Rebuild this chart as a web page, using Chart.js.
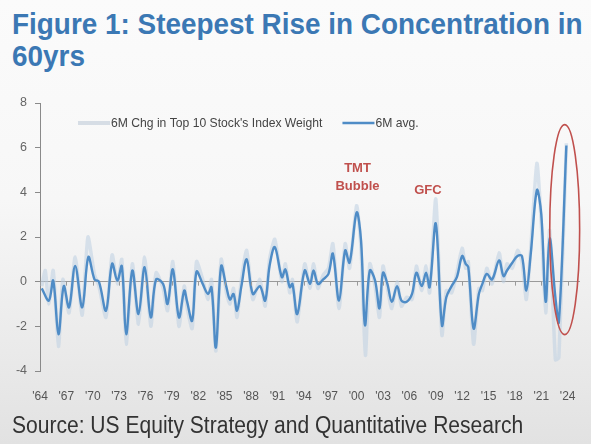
<!DOCTYPE html>
<html>
<head>
<meta charset="utf-8">
<script src="https://cdn.jsdelivr.net/npm/chart.js@4.4.1/dist/chart.umd.min.js"></script>
<style>
html, body { margin: 0; padding: 0; }
body {
    width: 591px; height: 444px; overflow: hidden; position: relative;
    background: linear-gradient(to bottom, #fbfbfb 0%, #f7f7f7 45%, #e2e2e2 100%);
    font-family: 'Liberation Sans', Arial, sans-serif;
}
#title {
    position: absolute; left: 12px; top: 8px; white-space: nowrap;
    font-weight: bold; font-size: 30px; line-height: 32px; color: #3b78b4;
    transform: scaleX(0.93); transform-origin: left top;
}
#source {
    position: absolute; left: 12px; top: 414px; white-space: nowrap;
    font-size: 23px; line-height: 23px; color: #333;
    transform: scaleX(0.915); transform-origin: left top;
}
#wrap { position: absolute; left: 0; top: 0; width: 591px; height: 444px; }
</style>
</head>
<body>
<div id="title">Figure 1: Steepest Rise in Concentration in<br>60yrs</div>
<div id="wrap"><canvas id="concChart"></canvas></div>
<div id="source">Source: US Equity Strategy and Quantitative Research</div>

<script>
// x tick positions (years)
const tickYears = [1964, 1967, 1970, 1973, 1976, 1979, 1982, 1985, 1988, 1991, 1994,
    1997, 2000, 2003, 2006, 2009, 2012, 2015, 2018, 2021, 2024];

// 6M avg. series
const avgYears = [1964.2, 1965.0, 1965.5, 1966.1, 1966.7, 1967.3, 1968.0, 1968.8, 1969.5, 1970.2,
    1970.7, 1971.5, 1972.2, 1972.8, 1973.3, 1973.8, 1974.5, 1975.2, 1975.9, 1976.6,
    1977.2, 1978.0, 1978.5, 1979.1, 1979.8, 1980.4, 1980.7, 1981.3, 1981.8, 1982.5,
    1983.1, 1983.5, 1984.0, 1984.6, 1985.2, 1985.6, 1986.0, 1986.4, 1986.9, 1987.5,
    1988.2, 1989.0, 1989.6, 1990.1, 1990.7, 1991.5, 1991.9, 1992.4, 1992.7, 1993.25,
    1994.1, 1994.7, 1995.1, 1995.6, 1996.2, 1996.8, 1997.3, 1998.0, 1998.7, 1999.2,
    2000.0, 2000.5, 2000.95, 2001.5, 2002.1, 2002.6, 2003.0, 2003.5, 2004.0, 2004.6,
    2005.1, 2005.7, 2006.3, 2006.8, 2007.4, 2007.9, 2008.3, 2009.0, 2009.7, 2010.2,
    2010.8, 2011.4, 2012.0, 2012.4, 2012.7, 2013.3, 2013.9, 2014.3, 2014.8, 2015.4,
    2016.2, 2016.7, 2017.1, 2017.7, 2018.3, 2018.8, 2019.3, 2019.8, 2020.5, 2021.0,
    2021.5, 2021.95, 2022.6, 2023.0, 2023.85];
const avgValues = [-0.3, -0.85, 0.05, -2.35, -0.2, -1.15, 0.7, -1.15, 1.1, 0.1,
    0.0, -1.3, 0.8, 0.05, 0.7, -2.35, 0.5, -1.45, 0.65, -1.6,
    0.1, -0.1, -1.0, 0.55, -1.6, -0.4, -0.85, -1.75, 0.45, -0.1,
    -0.55, -0.25, -2.95, 0.7, -0.25, -0.8, -0.55, -1.3, -0.2, 1.0,
    -0.55, -0.2, -0.85, 0.7, 1.55, 0.2, 0.55, -0.25, -0.1, -1.45,
    0.5, -0.1, 0.5, -0.1, 0.1, 0.35, 1.25, -0.85, 1.4, 0.85,
    3.1, 1.85, -1.95, 0.5, 0.05, -1.2, 0.4, -0.1, -0.9, -0.2,
    -0.85, -0.9, -0.55, 0.4, -0.2, 0.4, -0.25, 2.6, -1.95, -0.7,
    -0.2, 0.2, 1.15, 0.8, 0.65, -2.1, -0.55, -0.1, 0.35, 0.1,
    0.95, 0.25, 0.5, 0.85, 1.15, 1.15, -0.4, 1.25, 4.1, 3.0,
    -0.9, 1.95, -0.7, -1.8, 6.1];

// 6M change, monthly (light series)
const rawYears = [1964.2, 1964.6, 1965.0, 1965.5, 1966.1, 1966.6, 1967.3, 1968.0, 1968.8, 1969.45,
    1970.2, 1970.7, 1971.5, 1972.2, 1972.8, 1973.3, 1973.8, 1974.5, 1975.2, 1975.9,
    1976.6, 1977.2, 1978.0, 1978.5, 1979.1, 1979.8, 1980.4, 1980.7, 1981.3, 1981.8,
    1982.5, 1983.1, 1983.5, 1984.0, 1984.6, 1985.2, 1985.6, 1986.0, 1986.4, 1986.9,
    1987.5, 1988.2, 1989.0, 1989.6, 1990.1, 1990.7, 1991.5, 1991.9, 1992.4, 1992.7,
    1993.25, 1994.1, 1994.7, 1995.1, 1995.6, 1996.2, 1996.8, 1997.3, 1998.0, 1998.7,
    1999.2, 2000.0, 2000.5, 2001.0, 2001.5, 2002.1, 2002.6, 2003.0, 2003.5, 2004.0,
    2004.6, 2005.1, 2005.7, 2006.3, 2006.8, 2007.4, 2007.9, 2008.3, 2009.0, 2009.7,
    2010.2, 2010.8, 2011.4, 2012.0, 2012.4, 2012.7, 2013.3, 2013.9, 2014.3, 2014.8,
    2015.4, 2016.2, 2016.7, 2017.1, 2017.7, 2018.3, 2018.8, 2019.3, 2019.8, 2020.5,
    2021.0, 2021.5, 2021.95, 2022.6, 2023.0, 2023.85];
const rawValues = [-0.2, 0.5, -1.0, 0.5, -2.9, 0.1, -1.4, 1.1, -1.5, 2.0,
    0.3, -0.2, -1.6, 1.2, -0.1, 1.0, -2.8, 0.8, -1.9, 1.1,
    -2.0, 0.4, -0.3, -1.3, 0.9, -2.0, -0.2, -1.1, -2.1, 0.9,
    0.1, -0.8, 0.1, -3.1, 1.0, -0.5, -1.0, -0.3, -1.6, 0.1,
    1.4, -0.8, 0.1, -1.1, 1.0, 1.9, 0.0, 0.8, -0.5, 0.1,
    -1.8, 0.8, -0.3, 0.8, -0.3, 0.3, 0.6, 1.7, -1.2, 1.7,
    0.6, 3.4, 1.5, -3.3, 0.8, -0.2, -1.6, 0.7, -0.3, -1.2,
    0.0, -1.1, -0.7, -0.8, 0.7, -0.4, 0.7, -0.5, 3.7, -2.4,
    -0.4, -0.5, 0.4, 1.5, 0.6, 0.9, -2.8, -0.3, -0.4, 0.6,
    -0.1, 1.3, 0.0, 0.8, 0.6, 1.4, 0.9, -0.8, 1.5, 5.3,
    2.6, -1.4, 2.3, -3.5, -3.4, 6.2];

// text notes on the chart (year, value)
const notes = [
    { lines: ['TMT', 'Bubble'], x: 2000.1, y: 5.05 },
    { lines: ['GFC'], x: 2008.1, y: 4.1 }
];
// red ring round the latest rise (centre and radii in data units)
const ring = { x: 2023.66, y: 2.33, rx: 1.7, ry: 4.7 };

const AVG_BLUE = '#4f8cc6';
const RAW_GREY = 'rgba(190,208,226,0.55)';
const NOTE_RED = '#c0504d';
const FONT = "'Liberation Sans', Arial, sans-serif";

function toPoints(xs, ys) {
    return xs.map((x, i) => ({ x: x, y: ys[i] }));
}

const overlay = {
    id: 'overlay',
    afterDatasetsDraw(chart) {
        const { ctx, chartArea, scales: { x, y } } = chart;
        ctx.save();

        // small ticks under the zero line
        const y0 = y.getPixelForValue(0);
        ctx.strokeStyle = '#9a9a9a';
        ctx.lineWidth = 1;
        tickYears.forEach(t => {
            const px = Math.round(x.getPixelForValue(t)) + 0.5;
            ctx.beginPath();
            ctx.moveTo(px, y0);
            ctx.lineTo(px, y0 + 4);
            ctx.stroke();
        });

        // notes
        ctx.fillStyle = NOTE_RED;
        ctx.font = 'bold 13px ' + FONT;
        ctx.textAlign = 'center';
        ctx.textBaseline = 'middle';
        notes.forEach(n => {
            const px = x.getPixelForValue(n.x);
            const py = y.getPixelForValue(n.y);
            n.lines.forEach((l, i) => ctx.fillText(l, px, py + i * 18));
        });

        // ring
        const cx = x.getPixelForValue(ring.x);
        const cy = y.getPixelForValue(ring.y);
        const rx = Math.abs(x.getPixelForValue(ring.x + ring.rx) - cx);
        const ry = Math.abs(y.getPixelForValue(ring.y + ring.ry) - cy);
        ctx.strokeStyle = NOTE_RED;
        ctx.lineWidth = 1.6;
        ctx.beginPath();
        ctx.ellipse(cx, cy, rx, ry, 0, 0, Math.PI * 2);
        ctx.stroke();

        // legend inside the plot, in a slightly narrow face
        let lx = chartArea.left + 38;
        const ly = chartArea.top + 20;
        const squeeze = 0.9;
        ctx.font = '13.5px ' + FONT;
        ctx.textAlign = 'left';
        ctx.fillStyle = '#444';
        chart.data.datasets.forEach(ds => {
            ctx.strokeStyle = ds.legendColor;
            ctx.lineWidth = ds.legendWidth;
            ctx.beginPath();
            ctx.moveTo(lx, ly);
            ctx.lineTo(lx + 32, ly);
            ctx.stroke();
            ctx.save();
            ctx.translate(lx + 33, ly);
            ctx.scale(squeeze, 1);
            ctx.fillText(ds.label, 0, 0);
            ctx.restore();
            lx += 33 + ctx.measureText(ds.label).width * squeeze + 20;
        });
        ctx.restore();
    }
};

const chart = new Chart(document.getElementById('concChart'), {
    type: 'line',
    data: {
        datasets: [
            {
                label: "6M Chg in Top 10 Stock's Index Weight",
                data: toPoints(rawYears, rawValues),
                borderColor: RAW_GREY,
                legendColor: '#d6dde5',
                legendWidth: 4,
                borderWidth: 3.5,
                pointRadius: 0,
                tension: 0.2,
                order: 2
            },
            {
                label: '6M avg.',
                data: toPoints(avgYears, avgValues),
                borderColor: AVG_BLUE,
                legendColor: AVG_BLUE,
                legendWidth: 2.5,
                borderWidth: 2.4,
                pointRadius: 0,
                tension: 0.35,
                order: 1
            }
        ]
    },
    options: {
        responsive: true,
        maintainAspectRatio: false,
        animation: false,
        layout: { padding: { top: 103, right: 11, left: 0, bottom: 0 } },
        plugins: { legend: { display: false }, tooltip: { enabled: false } },
        scales: {
            x: {
                type: 'linear',
                min: 1964,
                max: 2025.4,
                afterBuildTicks: s => { s.ticks = tickYears.map(v => ({ value: v })); },
                afterFit: s => { s.height = 73; },
                grid: { display: false },
                border: { display: false },
                ticks: {
                    padding: 10,
                    color: '#555',
                    font: { family: FONT, size: 12 },
                    maxRotation: 0,
                    autoSkip: false,
                    callback: v => "'" + String(v).slice(-2)
                }
            },
            y: {
                min: -4,
                max: 8,
                afterFit: s => { s.width = 40; },
                ticks: { stepSize: 2, padding: 8, color: '#666', font: { family: FONT, size: 12.5 } },
                border: { display: true, color: '#8a8a8a' },
                grid: {
                    drawTicks: true,
                    tickLength: 5,
                    tickColor: '#8a8a8a',
                    color: c => c.tick && c.tick.value === 0 ? '#9a9a9a' : 'transparent'
                }
            }
        }
    },
    plugins: [overlay]
});
</script>
</body>
</html>
